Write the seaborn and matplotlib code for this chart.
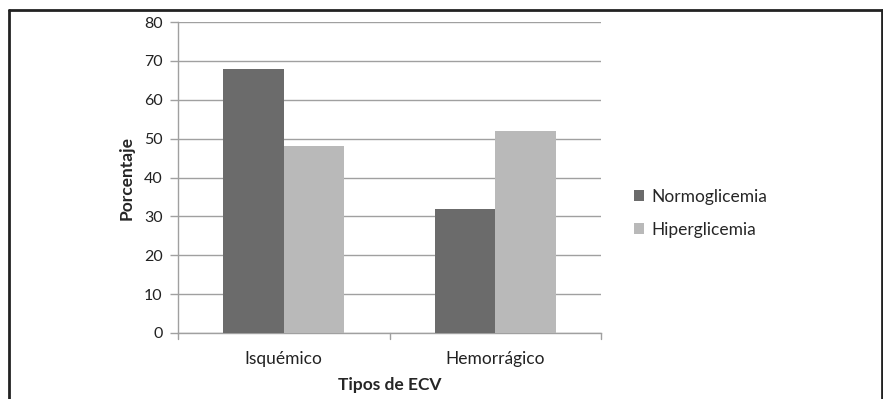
import matplotlib
matplotlib.use("Agg")
import matplotlib.pyplot as plt
from matplotlib.lines import Line2D
from matplotlib.patches import Patch
import seaborn as sns
import pandas as pd

categories = ["Isquémico", "Hemorrágico"]
series_names = ["Normoglicemia", "Hiperglicemia"]
normoglicemia = [68, 32]
hiperglicemia = [48, 52]
y_ticks = [0, 10, 20, 30, 40, 50, 60, 70, 80]

colors = ["#6b6b6b", "#b9b9b9"]

df = pd.DataFrame({
    "Tipo": categories * 2,
    "Grupo": [series_names[0]] * 2 + [series_names[1]] * 2,
    "Porcentaje": normoglicemia + hiperglicemia,
})

sns.set_style("white")
plt.rcParams["font.family"] = ["Lato", "DejaVu Sans"]

fig = plt.figure(figsize=(8.83, 3.99), dpi=100)
ax = fig.add_axes([178 / 883, 1 - 333 / 399, (601 - 178) / 883, (333 - 22) / 399])

sns.barplot(data=df, x="Tipo", y="Porcentaje", hue="Grupo", order=categories,
            hue_order=series_names, palette=colors, width=0.57, saturation=1,
            linewidth=0, ax=ax, legend=False, zorder=3)

ax.set_ylim(0, 80)
ax.set_xlim(-0.5, 1.5)
ax.set_yticks(y_ticks)
ax.set_yticklabels([str(v) for v in y_ticks], fontsize=11.5, color="#222222")
ax.tick_params(axis="y", length=6, width=1, color="#a0a0a0", pad=5, left=True)
ax.tick_params(axis="x", length=0, pad=13, labelsize=12.5, labelcolor="#222222")
ax.yaxis.grid(True, color="#a0a0a0", linewidth=1, zorder=0)
ax.set_axisbelow(True)

# category separator ticks under the x axis
for xpos in (-0.5, 0.5, 1.5):
    ax.plot([xpos, xpos], [0, -1.6], color="#a0a0a0", linewidth=1, clip_on=False)

for side in ("top", "right"):
    ax.spines[side].set_visible(False)
for side in ("left", "bottom"):
    ax.spines[side].set_color("#a0a0a0")
    ax.spines[side].set_linewidth(1)

ax.set_ylabel("Porcentaje", fontsize=12.5, fontweight="bold", labelpad=7)
ax.set_xlabel("Tipos de ECV", fontsize=12.5, fontweight="bold", labelpad=7)

handles = [Patch(facecolor=c, edgecolor="none") for c in colors]
fig.legend(handles, series_names, loc="upper left",
           bbox_to_anchor=(618 / 883, 1 - 173 / 399), frameon=False,
           fontsize=12.5, handlelength=0.6, handleheight=0.6, handletextpad=0.4,
           labelspacing=1.0)

# frame around the chart
lw = 2
fig.add_artist(Line2D([9 / 883, 882 / 883], [1 - 10 / 399, 1 - 10 / 399],
                      color="#222222", linewidth=lw, transform=fig.transFigure))
fig.add_artist(Line2D([9 / 883, 9 / 883], [1 - 10 / 399, 0],
                      color="#222222", linewidth=lw, transform=fig.transFigure))
fig.add_artist(Line2D([882 / 883, 882 / 883], [1 - 10 / 399, 0],
                      color="#222222", linewidth=lw, transform=fig.transFigure))

fig.savefig("out.png", dpi=100, facecolor="white")
